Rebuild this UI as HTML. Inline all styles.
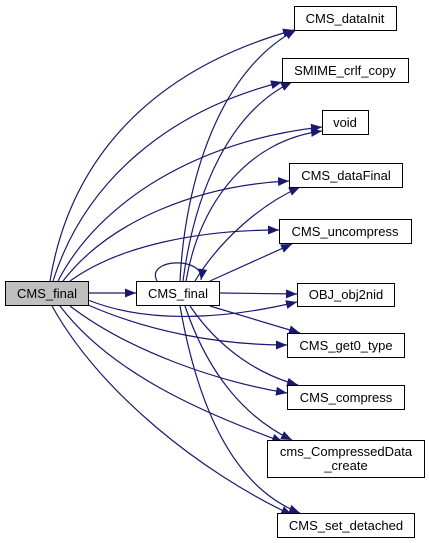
<!DOCTYPE html>
<html><head><meta charset="utf-8"><style>
html,body{margin:0;padding:0;background:#fff;width:429px;height:543px;overflow:hidden}
text{font-family:"Liberation Sans",Arial,sans-serif;font-size:13px;fill:#000}
</style></head><body>
<svg width="429" height="543" viewBox="0 0 429 543" xmlns="http://www.w3.org/2000/svg">
<defs><marker id="a" markerWidth="11" markerHeight="9" refX="11" refY="4.5" orient="auto" markerUnits="userSpaceOnUse"><path d="M0,0 L11,4.5 L0,9 Z" fill="#191970"/></marker></defs>
<g fill="none" stroke="#191970" stroke-width="1.2" marker-end="url(#a)">
<path d="M50,281 C70,160 150,70 294,30"/>
<path d="M53,281 C85,180 170,110 282,82"/>
<path d="M58,281 C100,200 200,140 322,127"/>
<path d="M63,281 C110,220 200,185 289,181"/>
<path d="M70,281 C120,245 200,230 279,230"/>
<path d="M88,293 L136,293"/>
<path d="M88,300 C150,325 230,318 297,302"/>
<path d="M88,305 C150,332 220,345 287,345"/>
<path d="M70,306 C130,352 220,382 287,393"/>
<path d="M60,306 C110,372 200,412 283,442"/>
<path d="M52,306 C100,392 200,472 292,515"/>
<path d="M180,281 C185,180 220,70 296,30"/>
<path d="M183,281 C195,190 230,112 292,82"/>
<path d="M186,281 C200,200 250,140 322,131"/>
<path d="M195,281 C220,240 260,205 300,187"/>
<path d="M210,281 L292,244"/>
<path d="M219,293 L297,294"/>
<path d="M210,306 L300,333"/>
<path d="M190,306 C220,350 260,375 298,385"/>
<path d="M185,306 C210,380 250,420 292,440"/>
<path d="M180,306 C200,420 240,490 300,513"/>
<path d="M157,281 C145,258 205,256 201,280"/>
</g>
<g stroke="#000" stroke-width="1">
<rect x="5.5" y="281.5" width="83" height="24" fill="#bfbfbf"/>
<rect x="136.5" y="281.5" width="83" height="24" fill="#fff"/>
<rect x="294.5" y="6.5" width="102" height="24" fill="#fff"/>
<rect x="282.5" y="58.5" width="126" height="24" fill="#fff"/>
<rect x="322.5" y="110.5" width="46" height="24" fill="#fff"/>
<rect x="289.5" y="163.5" width="113" height="24" fill="#fff"/>
<rect x="279.5" y="219.5" width="132" height="24" fill="#fff"/>
<rect x="297.5" y="283.5" width="97" height="23" fill="#fff"/>
<rect x="287.5" y="333.5" width="117" height="24" fill="#fff"/>
<rect x="287.5" y="385.5" width="117" height="24" fill="#fff"/>
<rect x="267.5" y="440.5" width="157" height="37" fill="#fff"/>
<rect x="277.5" y="513.5" width="137" height="24" fill="#fff"/>
</g>
<g text-anchor="middle">
<text x="47" y="298">CMS_final</text>
<text x="178" y="298">CMS_final</text>
<text x="345" y="23">CMS_dataInit</text>
<text x="345" y="75">SMIME_crlf_copy</text>
<text x="345" y="127">void</text>
<text x="346" y="180">CMS_dataFinal</text>
<text x="345" y="236">CMS_uncompress</text>
<text x="346" y="299">OBJ_obj2nid</text>
<text x="346" y="350">CMS_get0_type</text>
<text x="346" y="402">CMS_compress</text>
<text x="346" y="456">cms_CompressedData</text>
<text x="346" y="470">_create</text>
<text x="346" y="530">CMS_set_detached</text>
</g>
</svg>
</body></html>
